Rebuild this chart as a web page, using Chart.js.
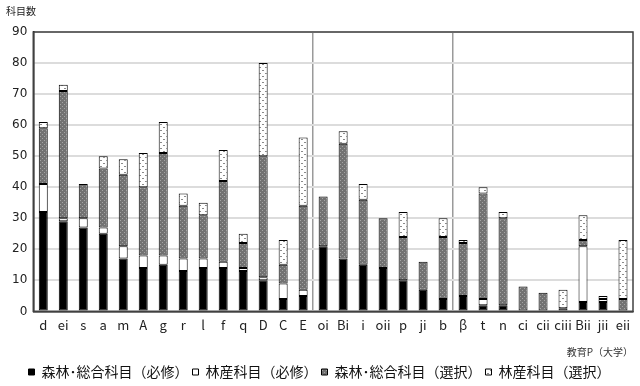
<!DOCTYPE html>
<html><head><meta charset="utf-8">
<script src="https://cdn.jsdelivr.net/npm/chart.js@4/dist/chart.umd.min.js"></script>
<style>html,body{margin:0;padding:0;background:#fff}#wrap{width:640px;height:386px}</style>
</head><body><div id="wrap"><canvas id="c" width="640" height="386"></canvas></div>
<script>
const categories = ['d','ei','s','a','m','A','g','r','l','f','q','D','C','E','oi','Bi','i','oii','p','ji','b','β','t','n','ci','cii','ciii','Bii','jii','eii'];
const forestRequired  = [32,29,27,25,17,14,15,13,14,14,13,10,4,5, 21,17,15,14,10,7,4, 5,2,2,0,0,0,3,3,0];
const productRequired = [9,1,3,2,4,4,3,4,3,2,1,1,5,2, 0,0,0,0,0,0,0, 0,2,0,0,0,0,18,1,0];
const forestElective  = [18,41,11,19,23,22,33,17,14,26,8,39,6,27, 16,37,21,16,14,9,20, 17,34,28,8,6,1,2,0,4];
const productElective = [2,2,0,4,5,11,10,4,4,10,3,30,8,22, 0,4,5,0,8,0,6, 1,2,2,0,0,6,8,1,19];
const seriesNames = ['森林･総合科目（必修）','林産科目（必修）','森林･総合科目（選択）','林産科目（選択）'];
const yTicks = [0,10,20,30,40,50,60,70,80,90];
const groupStarts = [14,21];

function makePattern(bg, fg, dots, size){
  const p = document.createElement('canvas'); p.width=size; p.height=size;
  const g = p.getContext('2d'); g.fillStyle=bg; g.fillRect(0,0,size,size);
  g.fillStyle=fg; dots.forEach(d=>g.fillRect(d[0],d[1],1,1));
  return g.createPattern(p,'repeat');
}
const ctx = document.getElementById('c').getContext('2d');
const grayPat = makePattern('#727272','#a4a4a4',[[0,0],[2,2]],4);
const dotPat = makePattern('#ffffff','#8a8a8a',[[1,1],[2,1],[4,4],[5,4]],6);

const FONT = "'Noto Sans CJK JP', 'Noto Sans', sans-serif";
const NUMFONT = "'DejaVu Sans', sans-serif";
const fills = ['#000000','#ffffff',grayPat,dotPat];
const datas = [forestRequired,productRequired,forestElective,productElective];

const boxPlugin = {
  id:'box',
  afterDatasetsDraw(chart){
    const a = chart.chartArea, c = chart.ctx;
    c.save(); c.strokeStyle='#404040'; c.lineWidth=1.5;
    c.strokeRect(a.left, a.top, a.right-a.left, a.bottom-a.top);
    c.restore();
  }
};

new Chart(ctx,{
  type:'bar',
  data:{labels:categories, datasets: datas.map((d,i)=>({
    label:seriesNames[i], data:d, backgroundColor:fills[i], borderColor:'#000',
    borderWidth:(c)=> (c.raw ? 1 : 0),
    barPercentage:0.45, categoryPercentage:1, borderSkipped:false
  }))},
  options:{
    responsive:false, animation:false,
    layout:{padding:{left:6,right:7,top:0,bottom:-3}},
    scales:{
      x:{stacked:true,
        grid:{offset:true, drawTicks:false,
          color:(c)=> groupStarts.includes(c.index) ? '#9a9a9a' : 'rgba(0,0,0,0)', lineWidth:1.5},
        border:{display:true,color:'#000',width:1.5},
        ticks:{autoSkip:false,maxRotation:0,color:'#222',font:{family:FONT,size:13},padding:6},
        title:{display:true,text:'教育P（大学）',align:'end',color:'#333',font:{family:FONT,size:10},padding:{top:7,bottom:3}}
      },
      y:{stacked:true,min:0,max:90,
        afterBuildTicks:(ax)=>{ax.ticks = yTicks.map(v=>({value:v}));},
        grid:{color:'#dcdcdc',lineWidth:2,drawTicks:false},
        border:{display:true,color:'#000',width:1.5},
        ticks:{color:'#222',font:{family:NUMFONT,size:12},padding:6}
      }
    },
    plugins:{
      title:{display:true,text:'科目数',align:'start',color:'#222',font:{family:FONT,size:10,weight:'normal'},padding:{top:5,bottom:15}},
      legend:{position:'bottom',labels:{boxWidth:6,boxHeight:6,color:'#111',font:{family:FONT,size:14},padding:4}},
      tooltip:{enabled:false}
    }
  },
  plugins:[boxPlugin]
});
</script></body></html>
